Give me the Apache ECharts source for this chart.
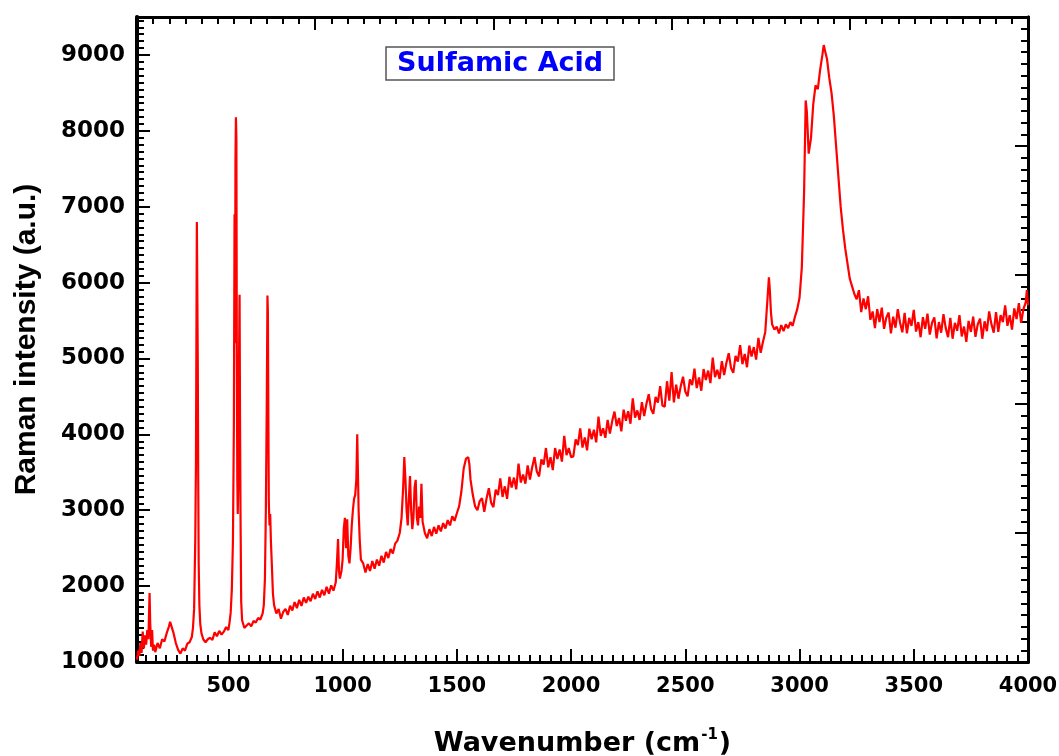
<!DOCTYPE html>
<html>
<head>
<meta charset="utf-8">
<script src="https://cdn.jsdelivr.net/npm/echarts@6/dist/echarts.min.js"></script>
<style>html,body{margin:0;padding:0;background:#fff}#chart{width:1059px;height:756px}</style>
</head>
<body>
<div id="chart"></div>
<script>
const chartTitle = 'Sulfamic Acid';
const xTitle = 'Wavenumber (cm';
const yTitle = 'Raman intensity (a.u.)';
const xMajorTicks = [500, 1000, 1500, 2000, 2500, 3000, 3500, 4000];
const yMajorTicks = [1000, 2000, 3000, 4000, 5000, 6000, 7000, 8000, 9000];
const frameMajorTicks = [0, 1, 2, 3, 4, 5];

// Raman spectrum [wavenumber, intensity]
const spectrum = [
[100,1030],[105,1150],[110,1080],[115,1250],[120,1120],[125,1400],[130,1180],[135,1350],[140,1230],[145,1420],[150,1300],[155,1910],[158,1500],[162,1200],[166,1420],[170,1150],[175,1230],[180,1130],[190,1250],[200,1180],[210,1300],[220,1270],[230,1380],[240,1470],[245,1530],[250,1480],[260,1380],[270,1250],[280,1160],[290,1110],[300,1180],[310,1150],[320,1240],[330,1260],[340,1330],[345,1450],[350,1700],[355,2600],[358,3600],[360,5200],[362,6800],[364,6780],[366,5000],[368,3400],[370,2300],[373,1750],[377,1500],[382,1380],[390,1300],
[400,1260],[410,1300],[420,1320],[430,1290],[440,1390],[450,1340],[460,1410],[470,1360],[480,1400],[490,1460],[500,1420],[505,1520],[510,1650],[515,1950],[520,2600],[524,4100],[527,6900],[529,5200],[531,7600],[533,8180],[535,7900],[537,5000],[539,3400],[541,2950],[543,3300],[546,4800],[549,5840],[551,4200],[553,3000],[556,1800],[560,1550],
[570,1450],[580,1480],[590,1510],[600,1470],[610,1540],[620,1520],[630,1580],[640,1560],[650,1640],[655,1750],[660,2100],[664,3000],[668,4400],[671,5830],[673,5600],[675,4200],[677,3100],[680,2800],[683,2950],[686,2600],[690,2300],[695,1900],
[700,1750],[710,1640],[720,1700],[730,1570],[740,1660],[750,1700],[760,1620],[770,1740],[780,1680],[790,1790],[800,1710],[810,1820],[820,1740],[830,1850],[840,1780],[850,1860],[860,1800],[870,1900],[880,1830],[890,1930],[900,1850],[910,1950],[920,1880],[930,1990],[940,1900],[950,2010],[960,1940],[970,2050],
[975,2300],[980,2620],[984,2200],[988,2100],[995,2200],[1000,2350],[1005,2750],[1010,2900],[1015,2500],[1020,2880],[1025,2400],[1030,2300],[1035,2500],[1040,2800],[1045,3000],[1050,3150],[1055,3200],[1060,3400],[1064,4000],[1067,3500],[1070,3000],[1075,2600],[1080,2350],
[1090,2300],[1100,2180],[1110,2290],[1120,2200],[1130,2330],[1140,2230],[1150,2350],[1160,2270],[1170,2400],[1180,2310],[1190,2450],[1200,2370],[1210,2490],[1220,2430],[1230,2560],[1240,2600],[1250,2700],
[1258,2900],[1265,3300],[1270,3700],[1275,3400],[1280,3000],[1285,2800],[1290,3150],[1295,3450],[1300,3000],[1305,2750],[1310,2900],[1315,3300],[1320,3400],[1325,2900],[1330,2800],[1335,3050],[1340,2900],[1345,3350],[1350,2850],
[1360,2700],[1370,2630],[1380,2750],[1390,2660],[1400,2780],[1410,2690],[1420,2800],[1430,2720],[1440,2830],[1450,2760],[1460,2870],[1470,2800],[1480,2920],[1490,2860],[1500,2960],
[1510,3050],[1520,3250],[1530,3550],[1540,3680],[1550,3700],[1555,3600],[1560,3400],[1570,3200],[1580,3050],[1590,3000],[1600,3120],
[1610,3160],[1620,2980],[1630,3155],[1640,3290],[1650,3100],[1660,3040],[1670,3270],[1680,3200],[1690,3420],[1700,3175],[1710,3315],[1720,3150],[1730,3440],[1740,3300],[1750,3430],[1760,3275],[1770,3615],[1780,3365],[1790,3470],[1800,3350],
[1810,3590],[1820,3405],[1830,3570],[1840,3700],[1850,3510],[1860,3445],[1870,3670],[1880,3600],[1890,3820],[1900,3565],[1910,3700],[1920,3530],[1930,3820],[1940,3675],[1950,3800],[1960,3640],[1970,3980],[1980,3725],[1990,3820],[2000,3700],
[2010,3710],[2020,3935],[2030,3860],[2040,4080],[2050,3825],[2060,3960],[2070,3790],[2080,4075],[2090,3935],[2100,4060],[2110,3895],[2120,4235],[2130,3980],[2140,4080],[2150,3955],[2160,4190],[2170,4010],[2180,4175],[2190,4300],[2200,4110],
[2210,4215],[2220,4040],[2230,4325],[2240,4180],[2250,4305],[2260,4140],[2270,4475],[2280,4220],[2290,4315],[2300,4190],[2310,4425],[2320,4240],[2330,4405],[2340,4530],[2350,4335],[2360,4270],[2370,4495],[2380,4420],[2390,4635],[2400,4380],
[2410,4365],[2420,4700],[2430,4445],[2440,4820],[2450,4420],[2460,4655],[2470,4470],[2480,4635],[2490,4760],[2500,4565],[2510,4500],[2520,4725],[2530,4650],[2540,4865],[2550,4610],[2560,4750],[2570,4575],[2580,4860],[2590,4715],[2600,4840],
[2610,4675],[2620,5010],[2630,4755],[2640,4850],[2650,4730],[2660,4965],[2670,4780],[2680,4945],[2690,5070],[2700,4875],[2710,4810],[2720,5035],[2730,4960],[2740,5175],[2750,4925],[2760,5060],[2770,4885],[2780,5170],[2790,5025],[2800,5150],
[2810,4985],[2820,5270],[2830,5075],[2840,5220],[2850,5350],[2860,5800],[2866,6070],[2870,5900],[2875,5600],[2880,5450],[2890,5380],[2900,5420],[2910,5330],[2920,5440],[2930,5360],[2940,5450],[2950,5400],[2960,5480],[2970,5430],[2980,5550],[2990,5650],
[3000,5800],[3010,6200],[3020,7200],[3027,8400],[3032,8250],[3040,7700],[3050,7900],[3060,8350],[3070,8600],[3080,8550],[3090,8800],[3100,9000],[3106,9130],[3112,9050],[3120,8950],[3130,8700],[3140,8500],[3150,8200],[3160,7800],[3170,7400],[3180,7000],[3190,6700],[3200,6450],
[3210,6250],[3220,6050],[3230,5950],[3240,5850],[3250,5780],
[3260,5900],[3270,5610],[3280,5790],[3290,5650],[3300,5820],[3310,5510],[3320,5620],[3330,5400],[3340,5650],[3350,5480],[3360,5670],[3370,5390],[3380,5540],[3390,5605],[3400,5330],
[3410,5550],[3420,5405],[3430,5650],[3440,5470],[3450,5345],[3460,5600],[3470,5330],[3480,5535],[3490,5430],[3500,5640],[3510,5355],[3520,5480],[3530,5280],[3540,5545],[3550,5390],[3560,5590],[3570,5315],[3580,5470],[3590,5540],[3600,5265],
[3610,5480],[3620,5340],[3630,5585],[3640,5400],[3650,5280],[3660,5535],[3670,5260],[3680,5470],[3690,5365],[3700,5570],[3710,5290],[3720,5420],[3730,5220],[3740,5495],[3750,5350],[3760,5550],[3770,5285],[3780,5450],[3790,5525],[3800,5260],
[3810,5490],[3820,5360],[3830,5620],[3840,5450],[3850,5340],[3860,5610],[3870,5350],[3880,5570],[3890,5480],[3900,5700],[3910,5430],[3920,5570],[3930,5380],[3940,5660],[3950,5520],[3960,5730],[3970,5470],[3980,5650],[3990,5740],[3995,5900],[4000,5700]
];

// minor tick positions: 11 sub-intervals per major interval
function minorTicks(start, end, step, parts) {
  const out = [];
  const s = step / parts;
  for (let v = start; v <= end + 1e-6; v += s) out.push(+v.toFixed(4));
  return out;
}
const xMinor = minorTicks(500 - 8 * 500 / 11, 4000, 500, 11).filter(v => v >= 100);
const yMinor = minorTicks(1000, 9500, 1000, 11);
const frameMinor = minorTicks(0, 5, 1, 11);

const FONT = 'DejaVu Sans';
const black = '#000';
const plain = v => String(v);

function minorAxis(position, min, max, values) {
  return {
    type: 'value', position: position, min: min, max: max,
    axisLine: { show: true, onZero: false, lineStyle: { color: black, width: 3 } },
    axisTick: { show: true, inside: true, length: 7, customValues: values, lineStyle: { color: black, width: 2 } },
    axisLabel: { show: true, customValues: values, formatter: () => '', color: 'rgba(0,0,0,0)' },
    splitLine: { show: false }
  };
}
function majorFrameAxis(position) {
  return {
    type: 'value', position: position, min: 0, max: 5,
    axisLine: { show: true, onZero: false, lineStyle: { color: black, width: 3 } },
    axisTick: { show: true, inside: true, length: 13, customValues: frameMajorTicks, lineStyle: { color: black, width: 2 } },
    axisLabel: { show: true, customValues: frameMajorTicks, formatter: () => '', color: 'rgba(0,0,0,0)' },
    splitLine: { show: false }
  };
}

const chart = echarts.init(document.getElementById('chart'), null, { renderer: 'canvas' });
chart.setOption({
  animation: false,
  backgroundColor: '#fff',
  title: {
    text: chartTitle,
    left: 386, top: 47,
    backgroundColor: '#fff',
    borderColor: '#555',
    borderWidth: 1.5,
    padding: [3, 11, 3, 11],
    textStyle: { color: '#0000ff', fontFamily: FONT, fontWeight: 'bold', fontSize: 27 }
  },
  grid: { left: 137, right: 31, top: 17, bottom: 94, containLabel: false, outerBoundsMode: 'none' },
  xAxis: [
    {
      type: 'value', position: 'bottom', min: 100, max: 4000,
      name: '{a|' + xTitle + '}{s|-1}{a|)}',
      nameLocation: 'middle', nameGap: 66,
      nameTextStyle: {
        rich: {
          a: { fontFamily: FONT, fontWeight: 'bold', fontSize: 27, color: black, lineHeight: 32 },
          s: { fontFamily: FONT, fontWeight: 'bold', fontSize: 15, color: black, verticalAlign: 'top', lineHeight: 32, padding: [0, 1, 12, 1] }
        }
      },
      axisLine: { onZero: false, lineStyle: { color: black, width: 3 } },
      axisTick: { inside: true, length: 13, customValues: xMajorTicks, lineStyle: { color: black, width: 2 } },
      axisLabel: { customValues: xMajorTicks, margin: 14, formatter: plain, color: black, fontFamily: FONT, fontWeight: 'bold', fontSize: 21 },
      splitLine: { show: false }
    },
    minorAxis('bottom', 100, 4000, xMinor),
    majorFrameAxis('top'),
    minorAxis('top', 0, 5, frameMinor)
  ],
  yAxis: [
    {
      type: 'value', position: 'left', min: 1000, max: 9500,
      name: yTitle, nameLocation: 'middle', nameGap: 95, nameRotate: 90,
      nameTextStyle: { fontFamily: 'Liberation Sans', fontWeight: 'bold', fontSize: 30, color: black },
      axisLine: { onZero: false, lineStyle: { color: black, width: 4 } },
      axisTick: { inside: true, length: 13, customValues: yMajorTicks, lineStyle: { color: black, width: 2 } },
      axisLabel: { customValues: yMajorTicks, margin: 12, formatter: plain, color: black, fontFamily: FONT, fontWeight: 'bold', fontSize: 23 },
      splitLine: { show: false }
    },
    minorAxis('left', 1000, 9500, yMinor),
    majorFrameAxis('right'),
    minorAxis('right', 0, 5, frameMinor)
  ],
  series: [
    {
      type: 'line', xAxisIndex: 0, yAxisIndex: 0,
      data: spectrum, showSymbol: false, symbol: 'none',
      lineStyle: { color: '#ff0000', width: 2.2 },
      clip: true, z: 1
    }
  ]
});
</script>
</body>
</html>
